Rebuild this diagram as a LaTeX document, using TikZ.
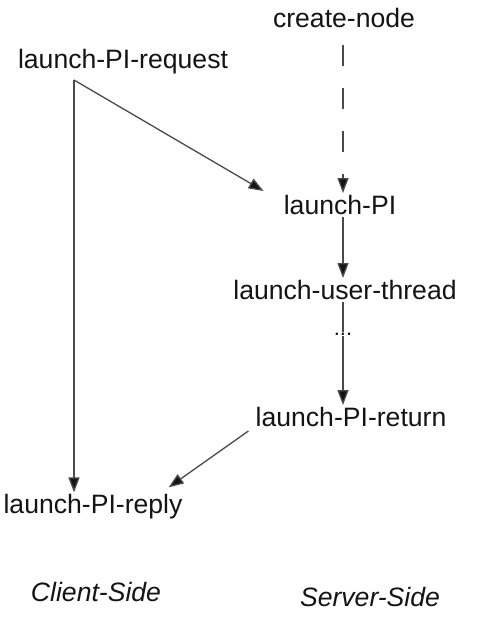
\documentclass[tikz,border=0pt]{standalone}
\usepackage{fontspec}
\setmainfont{Liberation Sans}
\usetikzlibrary{arrows.meta,calc,positioning}
\definecolor{FlowInk}{HTML}{141414}
\definecolor{FlowLine}{HTML}{4A4A4A}
\tikzset{
  every node/.style={font=\fontsize{26.6}{30}\selectfont, text=FlowInk, inner sep=2pt},
  call/.style={draw=FlowLine, line width=1.3pt, -{Triangle[length=15pt,width=11pt,fill=FlowInk]}},
  spawn/.style={call, dash pattern=on 21pt off 22pt},
  plain/.style={draw=FlowLine, line width=1.3pt},
  side/.style={font=\itshape\fontsize{26.6}{30}\selectfont},
}
\begin{document}
\begin{tikzpicture}[x=1pt,y=-1pt]
  % pixel grid of the reference, y grows downwards
  \useasboundingbox (0,0) rectangle (486,624);
  \node (create) at (344,18) {create-node};
  \node (request) at (123,62) {launch-PI-request};
  \node (pi) at (340,205) {launch-PI};
  \node (thread) at (345,290) {launch-user-thread};
  \node[inner sep=1pt] (dots) at (343,334) {\fontsize{22}{22}\selectfont ...};
  \node (return) at (351,417) {launch-PI-return};
  \node (reply) at (93,507) {launch-PI-reply};
  \node[side] (client) at (96,592) {Client-Side};
  \node[side] (server) at (370,597) {Server-Side};
  \coordinate (fork) at (74,80);
  \draw[spawn] (create.south -| dots) ++(0,15) -- (pi.north -| dots);
  \draw[call] (fork) -- ($(pi.north west)+(-18,-2)$);
  \draw[call] (fork) -- (fork |- reply.north);
  \draw[call] (pi.south -| dots) -- (thread.north -| dots);
  \draw[plain] (thread.south -| dots) -- (dots.north);
  \draw[call] (dots.south) -- (return.north -| dots);
  \draw[call] ($(return.south west)+(-5,2)$) -- ($(reply.north east)+(-16,-5)$);
\end{tikzpicture}
\end{document}
